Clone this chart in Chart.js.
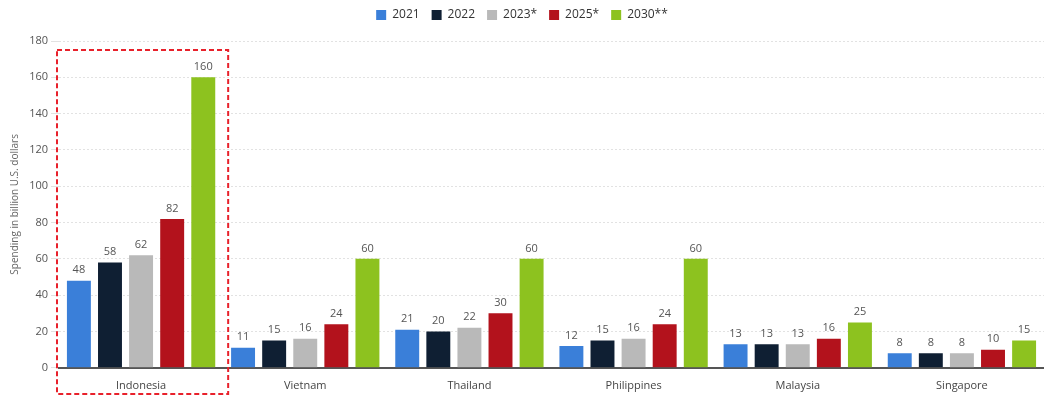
<!DOCTYPE html>
<html>
<head>
<meta charset="utf-8">
<script src="https://cdn.jsdelivr.net/npm/chart.js@4/dist/chart.umd.min.js"></script>
<style>
  html, body { margin: 0; padding: 0; background: #fff; }
  #wrap { width: 1044px; height: 399px; }
</style>
</head>
<body>
<div id="wrap"><canvas id="spendingChart"></canvas></div>
<script>
// Countries and yearly spending (billion U.S. dollars)
var countries = ['Indonesia', 'Vietnam', 'Thailand', 'Philippines', 'Malaysia', 'Singapore'];
var years = ['2021', '2022', '2023*', '2025*', '2030**'];
var values2021 = [48, 11, 21, 12, 13, 8];
var values2022 = [58, 15, 20, 15, 13, 8];
var values2023 = [62, 16, 22, 16, 13, 8];
var values2025 = [82, 24, 30, 24, 16, 10];
var values2030 = [160, 60, 60, 60, 25, 15];
var yTicks = [0, 20, 40, 60, 80, 100, 120, 140, 160, 180];

var colors = ['#3a7fd9', '#0f1f33', '#b9b9b9', '#b3121c', '#8dc21f'];
var seriesValues = [values2021, values2022, values2023, values2025, values2030];

var datasets = years.map(function(year, i) {
    return {
        label: year,
        data: seriesValues[i],
        backgroundColor: colors[i],
        borderWidth: 0,
        categoryPercentage: 0.947,
        barPercentage: 0.77
    };
});

// value labels above each bar
var valueLabels = {
    id: 'valueLabels',
    afterDatasetsDraw: function(chart) {
        var ctx = chart.ctx;
        ctx.save();
        ctx.font = '11px "Open Sans", sans-serif';
        ctx.fillStyle = '#555';
        ctx.textAlign = 'center';
        ctx.textBaseline = 'bottom';
        chart.data.datasets.forEach(function(ds, i) {
            chart.getDatasetMeta(i).data.forEach(function(bar, j) {
                ctx.fillText(ds.data[j], bar.x, bar.y - 5);
            });
        });
        ctx.restore();
    }
};

// dashed red box around the first country
var highlightBox = {
    id: 'highlightBox',
    afterDraw: function(chart) {
        var x = chart.scales.x;
        var y = chart.scales.y;
        var half = (x.getPixelForValue(1) - x.getPixelForValue(0)) / 2;
        var left = x.getPixelForValue(0) - half - 2;
        var right = x.getPixelForValue(0) + half + 5;
        var top = y.getPixelForValue(175);
        var bottom = chart.height - 5;
        var ctx = chart.ctx;
        ctx.save();
        ctx.strokeStyle = '#e8212b';
        ctx.lineWidth = 2;
        ctx.setLineDash([5, 3]);
        ctx.strokeRect(left, top, right - left, bottom - top);
        ctx.restore();
    }
};

// extra room under the legend
var legendSpace = {
    id: 'legendSpace',
    beforeInit: function(chart) {
        var fit = chart.legend.fit;
        chart.legend.fit = function() {
            fit.bind(chart.legend)();
            this.height += 10;
        };
    }
};

new Chart(document.getElementById('spendingChart').getContext('2d'), {
    type: 'bar',
    data: { labels: countries, datasets: datasets },
    plugins: [valueLabels, highlightBox, legendSpace],
    options: {
        responsive: true,
        maintainAspectRatio: false,
        animation: false,
        layout: { padding: { left: 0, right: 0, top: -3, bottom: 4 } },
        plugins: {
            legend: {
                position: 'top',
                labels: {
                    boxWidth: 10,
                    boxHeight: 10,
                    padding: 12,
                    color: '#333',
                    font: { size: 12, family: '"Open Sans", sans-serif' }
                }
            },
            tooltip: { enabled: false }
        },
        scales: {
            x: {
                grid: { display: false },
                border: { color: '#555', width: 2 },
                ticks: { color: '#444', font: { size: 11, family: '"Open Sans", sans-serif' } }
            },
            y: {
                min: 0,
                max: 180,
                afterBuildTicks: function(scale) {
                    scale.ticks = yTicks.map(function(v) { return { value: v }; });
                },
                afterFit: function(scale) {
                    scale.width = 59;
                },
                grid: { color: '#e2e2e2' },
                border: { display: false, dash: [2, 2] },
                ticks: { color: '#555', padding: 3, font: { size: 11, family: '"Open Sans", sans-serif' } },
                title: {
                    display: true,
                    text: 'Spending in billion U.S. dollars',
                    color: '#666',
                    padding: { top: 9, bottom: 4 },
                    font: { size: 10, family: '"Open Sans", sans-serif' }
                }
            }
        }
    }
});
</script>
</body>
</html>
